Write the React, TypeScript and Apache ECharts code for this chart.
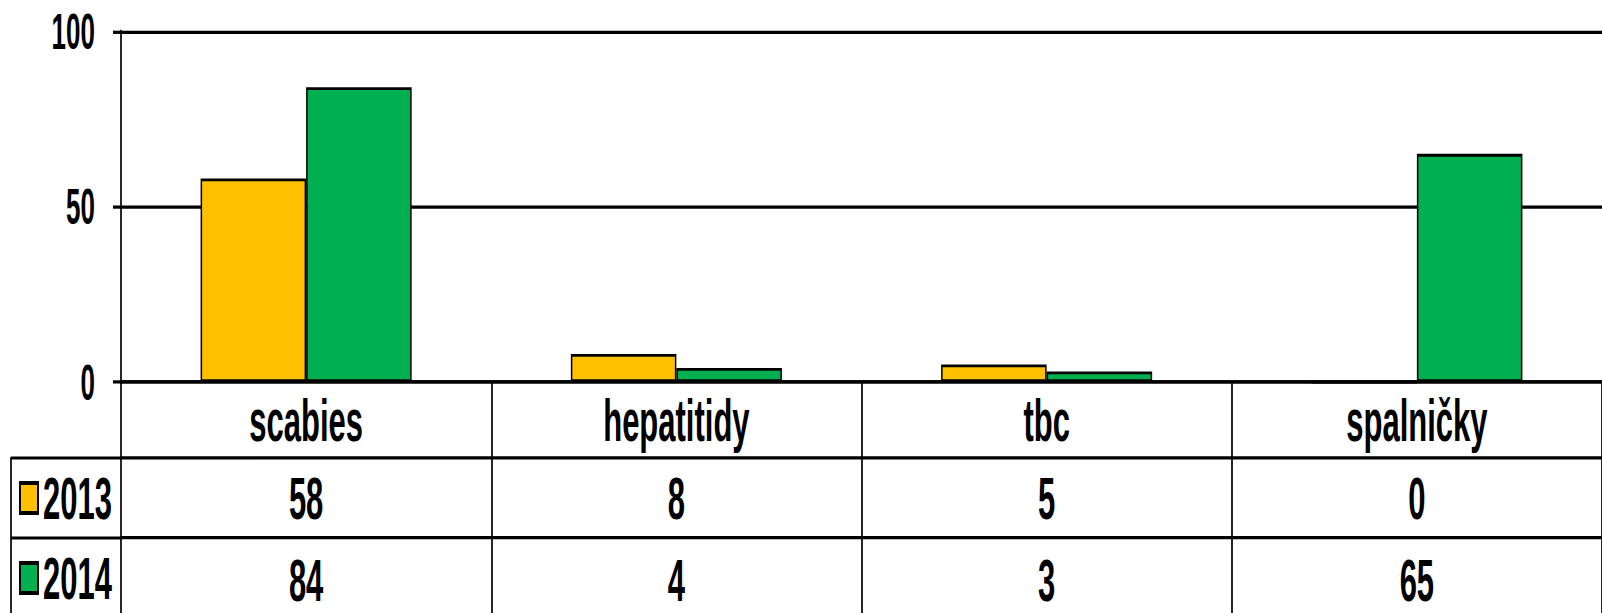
import React, { useEffect, useRef } from "react";
import * as echarts from "echarts";

const categories = ["scabies", "hepatitidy", "tbc", "spalničky"];
const seriesNames = ["2013", "2014"];
const values2013 = [58, 8, 5, 0];
const values2014 = [84, 4, 3, 65];
const yMin = 0;
const yMax = 100;
const yInterval = 50;

const colors = ["#FFC000", "#00B050"];
const S = 1.9; // vertical stretch of the original picture
const W = 1602;
const H = Math.ceil(613 / S) + 2;
const f = (y: number) => y / S;
const FONT = "'Liberation Sans', Arial, sans-serif";
const LW = 1.7;

export default function App() {
  const ref = useRef<HTMLDivElement>(null);
  useEffect(() => {
    document.body.style.margin = "0";
    const chart = echarts.init(ref.current!, null, { renderer: "svg" });
    const lineStyle = { color: "#000", width: LW };
    const labelBase = {
      color: "#000",
      fontFamily: FONT,
      fontWeight: "bold" as const,
      fontSize: 31,
      verticalAlign: "middle" as const,
      interval: 0,
    };
    const rowAxis = (offsetPx: number, marginPx: number, vals: number[]) => ({
      type: "category",
      data: categories,
      position: "bottom",
      offset: f(offsetPx),
      axisLine: { show: true, lineStyle, onZero: false },
      axisTick: { show: false },
      axisLabel: {
        ...labelBase,
        margin: f(marginPx),
        formatter: (_v: string, i: number) => String(vals[i]),
      },
    });
    chart.setOption({
      animation: false,
      grid: { left: 121, top: f(31), height: f(351), width: 1483, containLabel: false },
      legend: {
        orient: "vertical",
        left: 14,
        top: f(498) - 15.5 - 5,
        height: 120,
        itemWidth: 18,
        itemHeight: f(30),
        itemGap: f(80) - 31,
        icon: "rect",
        textStyle: { color: "#000", fontFamily: FONT, fontWeight: "bold", fontSize: 31 },
        data: seriesNames,
      },
      xAxis: [
        {
          type: "category",
          data: categories,
          position: "bottom",
          axisLine: { show: true, lineStyle, onZero: false },
          axisTick: { show: true, interval: 0, length: f(613 - 382) + 6, lineStyle },
          axisLabel: { ...labelBase, margin: f(38) },
        },
        rowAxis(458 - 382, 40, values2013),
        rowAxis(538 - 382, 42, values2014),
      ],
      yAxis: {
        type: "value",
        min: yMin,
        max: yMax,
        interval: yInterval,
        axisLine: { show: true, lineStyle },
        axisTick: { show: true, length: 8, lineStyle },
        splitLine: { show: true, lineStyle },
        axisLabel: {
          color: "#000",
          fontFamily: FONT,
          fontWeight: "bold",
          fontSize: 26,
          margin: 26,
        },
      },
      series: [
        {
          name: seriesNames[0],
          type: "bar",
          data: values2013,
          barGap: "0%",
          barCategoryGap: "43%",
          itemStyle: { color: colors[0], borderColor: "#000", borderWidth: 1.5 },
        },
        {
          name: seriesNames[1],
          type: "bar",
          data: values2014,
          barGap: "0%",
          barCategoryGap: "43%",
          itemStyle: { color: colors[1], borderColor: "#000", borderWidth: 1.5 },
        },
      ],
      graphic: [
        { type: "line", shape: { x1: 11, y1: f(458), x2: 122, y2: f(458) }, style: { stroke: "#000", lineWidth: LW } },
        { type: "line", shape: { x1: 11, y1: f(538), x2: 122, y2: f(538) }, style: { stroke: "#000", lineWidth: LW } },
        { type: "line", shape: { x1: 11, y1: f(457), x2: 11, y2: H }, style: { stroke: "#000", lineWidth: LW } },
      ],
    });
    return () => chart.dispose();
  }, []);
  return (
    <div
      style={{
        position: "fixed",
        left: 0,
        top: 0,
        width: W,
        height: 613,
        overflow: "hidden",
        background: "#fff",
      }}
    >
      <div
        ref={ref}
        style={{
          width: W,
          height: H,
          transform: `scaleY(${S})`,
          transformOrigin: "0 0",
        }}
      />
    </div>
  );
}
